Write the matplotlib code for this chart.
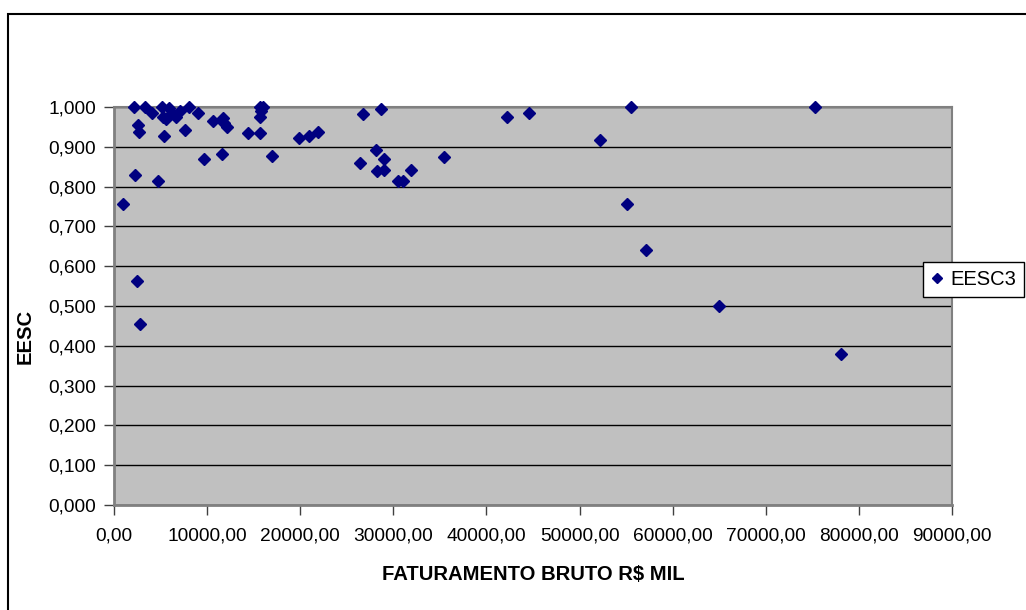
"""
EESC x Faturamento bruto - scatter
"""

import matplotlib
matplotlib.use('Agg')
import matplotlib.pyplot as plt
from matplotlib.patches import Rectangle
from matplotlib.ticker import FuncFormatter, MultipleLocator

plt.rcParams['font.family'] = ['Liberation Sans', 'DejaVu Sans']

# faturamento bruto (R$ mil)
faturamento = [
    1018, 2125, 3300, 4130, 5125, 5270, 5590, 5875, 6200, 6625,
    7090, 8090, 8985, 2625, 2660, 5380, 7630, 2270, 4690, 9665,
    10660, 11700, 11810, 12090, 11550, 14415, 15670, 15670, 15700, 15990,
    15810, 16990, 19915, 20920, 21950, 26775, 28670, 26420, 28135, 28280,
    28990, 29030, 30495, 31060, 31920, 35495, 42210, 44605, 52145, 55575,
    55075, 57110, 65005, 78050, 75295, 2445, 2770,
]
# EESC3
eesc3 = [
    0.757, 1.000, 1.000, 0.986, 1.000, 0.976, 0.969, 0.998, 0.986, 0.974,
    0.991, 1.000, 0.986, 0.956, 0.937, 0.927, 0.942, 0.829, 0.814, 0.870,
    0.966, 0.973, 0.959, 0.951, 0.882, 0.934, 0.934, 0.974, 1.000, 1.000,
    0.989, 0.878, 0.922, 0.926, 0.938, 0.983, 0.994, 0.859, 0.893, 0.838,
    0.870, 0.842, 0.814, 0.814, 0.842, 0.874, 0.974, 0.986, 0.917, 1.000,
    0.757, 0.641, 0.500, 0.379, 1.000, 0.564, 0.455,
]

W, H = 1026, 610
fig = plt.figure(figsize=(W / 100, H / 100), dpi=100)
fig.patch.set_facecolor('white')

# outer chart frame (right/bottom edges fall outside the image)
fig.patches.append(Rectangle((8 / W, -0.05), 1.05, 1 - 14 / H + 0.05,
                             transform=fig.transFigure, fill=False,
                             edgecolor='black', linewidth=1.5, zorder=0))

ax = fig.add_axes([114 / W, 1 - 505 / H, 838 / W, 398 / H])
ax.set_facecolor('#C0C0C0')

ax.plot(faturamento, eesc3, linestyle='none', marker='D', markersize=6.3,
        color='#000080', label='EESC3', zorder=3, clip_on=False)

ax.set_xlim(0, 90000)
ax.set_ylim(0, 1.0)
ax.xaxis.set_major_locator(MultipleLocator(10000))
ax.yaxis.set_major_locator(MultipleLocator(0.1))
ax.xaxis.set_major_formatter(FuncFormatter(lambda v, p: f'{v:.2f}'.replace('.', ',')))
ax.yaxis.set_major_formatter(FuncFormatter(lambda v, p: f'{v:.3f}'.replace('.', ',')))

ax.grid(True, axis='y', color='black', linewidth=1.0, zorder=1)
ax.set_axisbelow(True)
for side in ['top', 'right']:
    ax.spines[side].set_color('#808080')
    ax.spines[side].set_linewidth(1.5)
for side in ['left', 'bottom']:
    ax.spines[side].set_color('#808080')
    ax.spines[side].set_linewidth(2)

ax.tick_params(axis='both', direction='out', length=7, width=1.0,
               color='#404040', labelsize=13.8, labelcolor='black')
ax.tick_params(axis='x', pad=9)
ax.tick_params(axis='y', pad=6)

ax.set_xlabel('FATURAMENTO BRUTO R$ MIL', fontsize=14.6, fontweight='bold', labelpad=15)
# y title sits a bit below the plot centre, as in the original
fig.text(25 / W, 1 - 336 / H, 'EESC', rotation=90, fontsize=14.6,
         fontweight='bold', ha='center', va='center')

leg = ax.legend(loc='upper left', bbox_to_anchor=(923 / W, 1 - 262 / H),
                bbox_transform=fig.transFigure, fontsize=14.5, frameon=True,
                fancybox=False, edgecolor='black', framealpha=1,
                borderpad=0.4, handlelength=0.6, handletextpad=0.35,
                borderaxespad=0, markerscale=0.85)
leg.get_frame().set_linewidth(1.0)

fig.savefig('out.png', dpi=100)
